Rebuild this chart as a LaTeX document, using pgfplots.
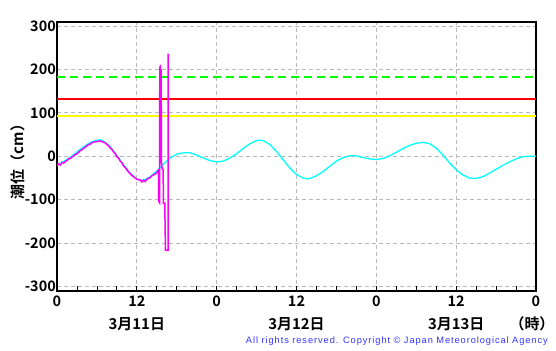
\documentclass[border=0pt]{standalone}
\usepackage{pgfplots}
\pgfplotsset{compat=1.18}
\usepackage{fontspec}
\setmainfont{Noto Sans CJK JP}[BoldFont={Noto Sans CJK JP Bold}]
\newfontfamily\cpfont[LetterSpace=10]{Liberation Sans}
\definecolor{tcyan}{RGB}{0,255,255}
\definecolor{tmag}{RGB}{255,0,255}
\definecolor{tgreen}{RGB}{0,255,0}
\definecolor{tyellow}{RGB}{255,255,0}
\definecolor{tred}{RGB}{255,0,0}
\definecolor{cpblue}{RGB}{51,51,255}
\begin{document}
\begin{tikzpicture}
\useasboundingbox (-57bp,-60bp) rectangle (499bp,291bp);
\begin{axis}[
  at={(0,0)}, anchor=south west,
  scale only axis, width=479bp, height=269bp,
  xmin=0, xmax=72, ymin=-310, ymax=309,
  xtick={0,12,...,72}, xticklabels={0,12,0,12,0,12,0},
  minor xtick={3,6,...,69},
  ytick={-300,-200,...,300},
  xtick pos=bottom, ytick pos=left,
  tick align=inside,
  major tick length=5bp, minor tick length=5bp,
  ytick style={draw=none},
  xtick style={black, line width=0.8bp},
  minor tick style={black, line width=0.8bp},
  xmajorgrids, ymajorgrids,
  major grid style={black!28, line width=0.8bp, dash pattern=on 4bp off 3bp},
  axis line style={black, line width=1.3bp},
  tick label style={font=\fontsize{14.5}{14.5}\selectfont\bfseries},
  /pgf/number format/assume math mode=true,
  yticklabel style={inner sep=1pt},
  xticklabel style={yshift=-1pt},
]
% warning levels
\addplot[tgreen, line width=2bp, dash pattern=on 8bp off 5bp] coordinates {(0,183) (72,183)};
\addplot[tred, line width=2bp] coordinates {(0,131) (72,131)};
\addplot[tyellow, line width=2bp] coordinates {(0,92) (72,92)};
% predicted tide
\addplot[tcyan, line width=1.3bp] coordinates {
(0,-20) (1,-12) (2,-2) (3,10) (4,22) (5,32) (6,37) (6.5,38) (7,35) (8,22) (9,2) (10,-20)
(11,-39) (12,-52) (12.7,-56) (13,-55) (14,-47) (15,-34) (16,-18) (17,-4) (18,5) (19,8)
(19.5,8.5) (20,8) (21,3) (22,-4) (23,-10) (24,-13) (25,-11) (26,-4) (27,6) (28,18) (29,29)
(30,36) (30.5,37) (31,36) (32,27) (33,11) (34,-8) (35,-27) (36,-42) (37,-50) (37.7,-52)
(38,-51) (39,-45) (40,-35) (41,-23) (42,-11) (43,-3) (44,1) (44.5,1.5) (45,1) (46,-3)
(47,-6) (48,-7.5) (49,-5) (50,1) (51,9) (52,18) (53,25) (54,30) (55,32) (56,29) (57,19)
(58,3) (59,-15) (60,-31) (61,-43) (62,-50) (63,-51) (64,-47) (65,-39) (66,-30) (67,-21)
(68,-13) (69,-6) (70,-1) (71,0) (72,0)
};
% observed tide
\addplot[tmag, line width=1.5bp] coordinates {
(0,-22) (0.25,-18) (0.5,-20) (0.75,-14) (1,-16) (1.25,-12) (1.5,-10) (1.75,-6) (2,-5)
(2.25,-2) (2.5,1) (2.75,4) (3,6) (3.25,9) (3.5,13) (3.75,15) (4,18) (4.25,21) (4.5,24)
(4.75,27) (5,28) (5.25,31) (5.5,33) (5.75,33) (6,34) (6.25,35) (6.5,35) (6.75,34) (7,32)
(7.25,31) (7.5,27) (7.75,24) (8,19) (8.25,16) (8.5,10) (8.75,6) (9,-1) (9.25,-4) (9.5,-11)
(9.75,-15) (10,-22) (10.25,-26) (10.5,-31) (10.75,-36) (11,-40) (11.25,-44) (11.5,-47)
(11.75,-50) (12,-53) (12.25,-54) (12.5,-54) (12.75,-59) (13,-55) (13.25,-58) (13.5,-53)
(13.75,-51) (14,-49) (14.25,-45) (14.5,-43) (14.75,-41) (15,-37) (15.2,-33) (15.25,-36)
(15.3,-104) (15.42,-107) (15.45,205) (15.55,207) (15.6,134) (15.65,200) (15.7,-15)
(15.8,-28) (15.95,-30) (16.0,-108) (16.2,-108) (16.3,-216) (16.7,-216) (16.72,236)
};
\end{axis}
\begin{scope}[every node/.style={font=\fontsize{15}{15}\selectfont\bfseries, inner sep=0pt}]
\node at (79.8bp,-33bp) {3月11日};
\node at (239.5bp,-33bp) {3月12日};
\node at (399.2bp,-33bp) {3月13日};
\node at (475bp,-33bp) {（時）};
\node[rotate=90] at (-39bp,133bp) {潮位（cm）};
\end{scope}
\node[anchor=east, inner sep=0pt, text=cpblue, font=\cpfont\fontsize{9.3}{9.3}\selectfont] at (491bp,-50bp) {All rights reserved. Copyright © Japan Meteorological Agency};
\end{tikzpicture}
\end{document}
